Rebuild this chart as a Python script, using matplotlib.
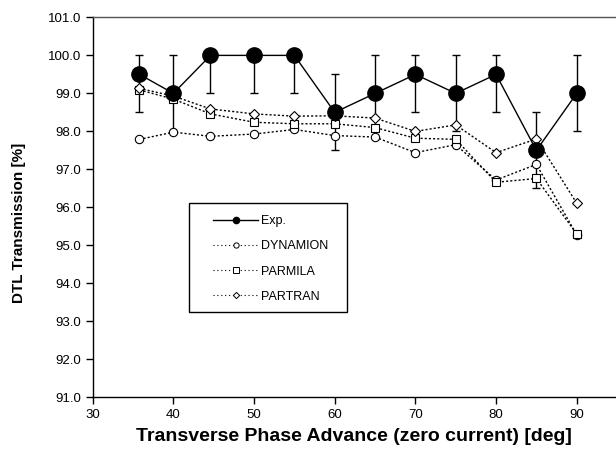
import numpy as np
import matplotlib
matplotlib.use('Agg')
import matplotlib.pyplot as plt
from matplotlib.lines import Line2D
from matplotlib.patches import Rectangle

plt.rcParams['font.family'] = ['Liberation Sans', 'DejaVu Sans']

# phase advance [deg]
phase = [35.8, 40, 44.6, 50, 55, 60, 65, 70, 75, 80, 85, 90]

exp_val = [99.5, 99.0, 100.0, 100.0, 100.0, 98.5, 99.0, 99.5, 99.0, 99.5, 97.5, 99.0]
exp_lo = [1.0, 1.0, 1.0, 1.0, 1.0, 1.0, 1.0, 1.0, 1.0, 1.0, 1.0, 1.0]
exp_hi = [0.5, 1.0, 0.0, 0.0, 0.0, 1.0, 1.0, 0.5, 1.0, 0.5, 1.0, 1.0]

dynamion = [97.79, 97.98, 97.87, 97.93, 98.05, 97.89, 97.85, 97.44, 97.65, 96.72, 97.13, 95.28]
parmila = [99.09, 98.85, 98.46, 98.24, 98.2, 98.2, 98.1, 97.82, 97.79, 96.66, 96.76, 95.3]
partran = [99.13, 98.93, 98.59, 98.46, 98.4, 98.41, 98.35, 98.0, 98.17, 97.44, 97.8, 96.11]

dots = (0, (1.5, 1.5))

fig = plt.figure(figsize=(6.16, 4.58), dpi=100)
ax = fig.add_axes([0.1505, 0.1325, 0.8495, 0.8295])

ax.errorbar(phase, exp_val, yerr=[exp_lo, exp_hi], fmt='none', ecolor='black',
            elinewidth=1, capsize=3, capthick=1, zorder=1)
ax.plot(phase, dynamion, ls=dots, color='black', lw=1, marker='o',
        ms=6, mfc='white', mec='black', mew=0.8, zorder=2)
ax.plot(phase, parmila, ls=dots, color='black', lw=1, marker='s',
        ms=6, mfc='white', mec='black', mew=0.8, zorder=2)
ax.plot(phase, partran, ls=dots, color='black', lw=1, marker='D',
        ms=5.2, mfc='white', mec='black', mew=0.8, zorder=2)
ax.plot(phase, exp_val, '-', color='black', lw=1, marker='o', ms=11,
        mfc='black', mec='black', zorder=3)

# legend box drawn separately, entries placed inside
ax.add_patch(Rectangle((0.184, 0.2245), 0.302, 0.2868, transform=ax.transAxes,
                       facecolor='white', edgecolor='black', lw=1, zorder=4))
leg_dots = (0, (1, 2.5))
handles = [
    Line2D([], [], color='black', lw=1, marker='o', ms=4.5, mfc='black'),
    Line2D([], [], color='black', lw=0.8, ls=leg_dots, marker='o', ms=3.8,
           mfc='white', mew=0.7),
    Line2D([], [], color='black', lw=0.8, ls=leg_dots, marker='s', ms=3.8,
           mfc='white', mew=0.7),
    Line2D([], [], color='black', lw=0.8, ls=leg_dots, marker='D', ms=3.2,
           mfc='white', mew=0.7),
]
labels = ['Exp.', 'DYNAMION', 'PARMILA', 'PARTRAN']
leg = ax.legend(handles, labels, loc='upper left', bbox_to_anchor=(0.230, 0.479),
                fontsize=9, frameon=False, handlelength=3.6, handletextpad=0.25,
                borderpad=0, labelspacing=1.05, borderaxespad=0)
leg.set_zorder(5)

ax.set_xlim(30, 94.87)
ax.set_ylim(91, 101)
ax.set_xticks(range(30, 91, 10))
ax.set_yticks(np.arange(91, 101.5, 1))
ax.yaxis.set_major_formatter(matplotlib.ticker.FormatStrFormatter('%.1f'))
ax.tick_params(direction='out', length=5, width=1, labelsize=9.5, colors='black')
ax.spines['right'].set_visible(False)
for s in ['top', 'left', 'bottom']:
    ax.spines[s].set_linewidth(1)
ax.spines['top'].set_color('#555555')

ax.set_xlabel('Transverse Phase Advance (zero current) [deg]', fontsize=14,
              fontweight='bold')
ax.xaxis.set_label_coords(0.5, -0.082)
ax.set_ylabel('DTL Transmission [%]', fontsize=11, fontweight='bold')
ax.yaxis.set_label_coords(-0.128, 0.46)

fig.savefig('out.png', dpi=100)
